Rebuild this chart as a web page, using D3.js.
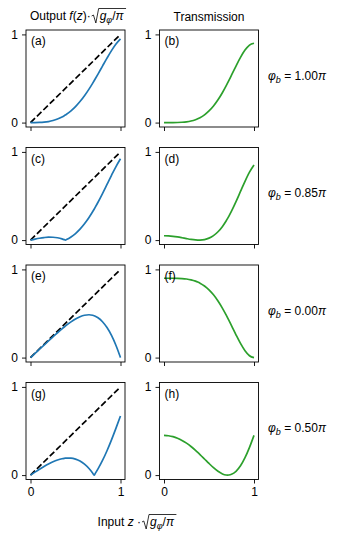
<!DOCTYPE html>
<html>
<head>
<meta charset="utf-8">
<script src="https://cdn.jsdelivr.net/npm/d3@7"></script>
<style>
  body { margin: 0; background: #fff; }
  text { font-family: "Liberation Sans", Arial, Helvetica, sans-serif; fill: #000; }
</style>
</head>
<body>
<svg id="fig" width="337" height="541"></svg>
<script>
// input grid (z * sqrt(g/pi)), denser near the zeros of the curves
const zGrid = [0, 0.05, 0.1, 0.15, 0.2, 0.25, 0.3, 0.35, 0.375, 0.387, 0.4, 0.45, 0.5,
               0.55, 0.6, 0.65, 0.69, 0.707, 0.72, 0.75, 0.8, 0.85, 0.9, 0.95, 1];

// left column: output amplitude, one row per bias phase
const outputA = [0, 0.0002, 0.0015, 0.0050, 0.0119, 0.0233, 0.0401, 0.0635, 0.0780, 0.0856, 0.0944, 0.1335, 0.1815,
                 0.2387, 0.3050, 0.3799, 0.4452, 0.4742, 0.4968, 0.5500, 0.6408, 0.7310, 0.8161, 0.8907, 0.9487];
const outputC = [0, 0.0109, 0.0207, 0.0283, 0.0326, 0.0325, 0.0268, 0.0143, 0.0052, 0.0001, 0.0060, 0.0352, 0.0742,
                 0.1238, 0.1844, 0.2560, 0.3208, 0.3503, 0.3736, 0.4294, 0.5282, 0.6313, 0.7349, 0.8340, 0.9225];
const outputE = [0, 0.0474, 0.0949, 0.1422, 0.1894, 0.2360, 0.2818, 0.3259, 0.3471, 0.3570, 0.3676, 0.4055, 0.4382,
                 0.4640, 0.4806, 0.4858, 0.4799, 0.4744, 0.4688, 0.4514, 0.4067, 0.3405, 0.2511, 0.1375, 0];
const outputG = [0, 0.0334, 0.0660, 0.0970, 0.1255, 0.1505, 0.1709, 0.1856, 0.1903, 0.1919, 0.1932, 0.1923, 0.1815,
                 0.1593, 0.1242, 0.0749, 0.0246, 0.0002, 0.0197, 0.0697, 0.1656, 0.2761, 0.3995, 0.5326, 0.6708];

// right column: transmission
const transB = [0, 0.0000, 0.0002, 0.0011, 0.0036, 0.0087, 0.0179, 0.0329, 0.0432, 0.0489, 0.0557, 0.0880, 0.1318,
                0.1884, 0.2584, 0.3415, 0.4163, 0.4498, 0.4760, 0.5378, 0.6416, 0.7396, 0.8222, 0.8791, 0.9000];
const transD = [0.0491, 0.0475, 0.0428, 0.0356, 0.0266, 0.0169, 0.0080, 0.0017, 0.0002, 0.0000, 0.0002, 0.0061, 0.0220,
                0.0507, 0.0944, 0.1551, 0.2162, 0.2455, 0.2692, 0.3279, 0.4359, 0.5516, 0.6668, 0.7707, 0.8510];
const transF = [0.9000, 0.9000, 0.8998, 0.8989, 0.8965, 0.8914, 0.8821, 0.8671, 0.8568, 0.8511, 0.8443, 0.8120, 0.7682,
                0.7116, 0.6416, 0.5585, 0.4838, 0.4502, 0.4240, 0.3622, 0.2584, 0.1604, 0.0778, 0.0209, 0];
const transH = [0.4500, 0.4465, 0.4359, 0.4182, 0.3936, 0.3622, 0.3245, 0.2811, 0.2576, 0.2460, 0.2332, 0.1827, 0.1318,
                0.0839, 0.0428, 0.0133, 0.0013, 0.0000, 0.0008, 0.0087, 0.0428, 0.1055, 0.1971, 0.3143, 0.4500];

const biasLabels = ["1.00", "0.85", "0.00", "0.50"];
const panelLetters = [["a", "b"], ["c", "d"], ["e", "f"], ["g", "h"]];
const tickVals = [0, 1];
const diagonal = [0, 1];

const outputs = [outputA, outputC, outputE, outputG];
const transmissions = [transB, transD, transF, transH];

// Layout
const fs = 12;
const colLeft = [26, 159.5];
const panelW = 99, panelH = 97;
const rowTop = [30, 147.5, 265, 382.5];
const blue = "#1f77b4", green = "#2ca02c";

const svg = d3.select("#fig");

const xScale = c => d3.scaleLinear().domain([-0.05, 1.05]).range([colLeft[c], colLeft[c] + panelW]);
const yScale = r => d3.scaleLinear().domain([-0.05, 1.05]).range([rowTop[r] + panelH, rowTop[r]]);

rowTop.forEach((top, r) => {
    [0, 1].forEach(c => {
        const x = xScale(c), y = yScale(r);
        const g = svg.append("g");

        if (c === 0) {
            // y = z reference
            g.append("path")
                .datum(diagonal)
                .attr("d", d3.line().x(d => x(d)).y(d => y(d)))
                .attr("fill", "none")
                .attr("stroke", "#000")
                .attr("stroke-width", 1.7)
                .attr("stroke-dasharray", "6.3,2.7");
        }

        const vals = c === 0 ? outputs[r] : transmissions[r];
        g.append("path")
            .datum(zGrid.map((z, i) => [z, vals[i]]))
            .attr("d", d3.line().x(d => x(d[0])).y(d => y(d[1])).curve(d3.curveMonotoneX))
            .attr("fill", "none")
            .attr("stroke", c === 0 ? blue : green)
            .attr("stroke-width", 1.7)
            .attr("stroke-linejoin", "round");

        // frame
        g.append("rect")
            .attr("x", colLeft[c]).attr("y", top)
            .attr("width", panelW).attr("height", panelH)
            .attr("fill", "none").attr("stroke", "#000").attr("stroke-width", 0.9);

        // axes
        const ya = g.append("g")
            .attr("transform", `translate(${colLeft[c]},0)`)
            .call(d3.axisLeft(y).tickValues(tickVals).tickSize(4).tickPadding(4).tickFormat(d3.format("d")));
        const xa = g.append("g")
            .attr("transform", `translate(0,${top + panelH})`)
            .call(d3.axisBottom(x).tickValues(tickVals).tickSize(4).tickPadding(4)
                .tickFormat(r === 3 ? d3.format("d") : () => ""));
        [ya, xa].forEach(a => {
            a.select(".domain").remove();
            a.selectAll("line").attr("stroke-width", 0.9);
            a.selectAll("text").style("font-size", fs + "px").style("font-family", null);
        });

        g.append("text")
            .attr("x", colLeft[c] + 5)
            .attr("y", top + 15)
            .style("font-size", fs + "px")
            .text(`(${panelLetters[r][c]})`);
    });

    // bias phase label
    const t = svg.append("text")
        .attr("x", 268)
        .attr("y", top + panelH / 2 + 1)
        .style("font-size", fs + "px");
    t.append("tspan").style("font-style", "italic").text("φ");
    t.append("tspan").style("font-style", "italic").style("font-size", "9px").attr("dy", 3).text("b");
    t.append("tspan").attr("dy", -3).text(` = ${biasLabels[r]}`);
    t.append("tspan").style("font-style", "italic").text("π");
});

// label with a drawn square root: prefix pieces then sqrt(g_phi / pi)
function sqrtLabel(prefix, cx, baseline) {
    const g = svg.append("g");
    const t1 = g.append("text").attr("y", baseline).style("font-size", fs + "px");
    prefix.forEach(p => t1.append("tspan").style("font-style", p[1] ? "italic" : "normal").text(p[0]));
    const w1 = t1.node().getComputedTextLength();
    const rx = w1 + 1;
    const t2 = g.append("text").attr("x", rx + 8).attr("y", baseline).style("font-size", fs + "px");
    t2.append("tspan").style("font-style", "italic").text("g");
    t2.append("tspan").style("font-style", "italic").style("font-size", "9px").attr("dy", 3).text("φ");
    t2.append("tspan").attr("dy", -3).text("/");
    t2.append("tspan").style("font-style", "italic").text("π");
    const w2 = t2.node().getBBox().width;
    const end = rx + 8 + w2 + 1.5;
    g.append("path")
        .attr("d", `M${rx},${baseline - 4}L${rx + 1.8},${baseline - 5}L${rx + 4.2},${baseline + 3}L${rx + 7},${baseline - 11.5}H${end}`)
        .attr("fill", "none").attr("stroke", "#000").attr("stroke-width", 0.8);
    g.attr("transform", `translate(${cx - end / 2},0)`);
}

sqrtLabel([["Output ", false], ["f", true], ["(", false], ["z", true], [")·", false]], 78, 20);
sqrtLabel([["Input ", false], ["z", true], [" ·", false]], 137, 526);

svg.append("text")
    .attr("x", colLeft[1] + panelW / 2)
    .attr("y", 21)
    .attr("text-anchor", "middle")
    .style("font-size", fs + "px")
    .text("Transmission");
</script>
</body>
</html>
